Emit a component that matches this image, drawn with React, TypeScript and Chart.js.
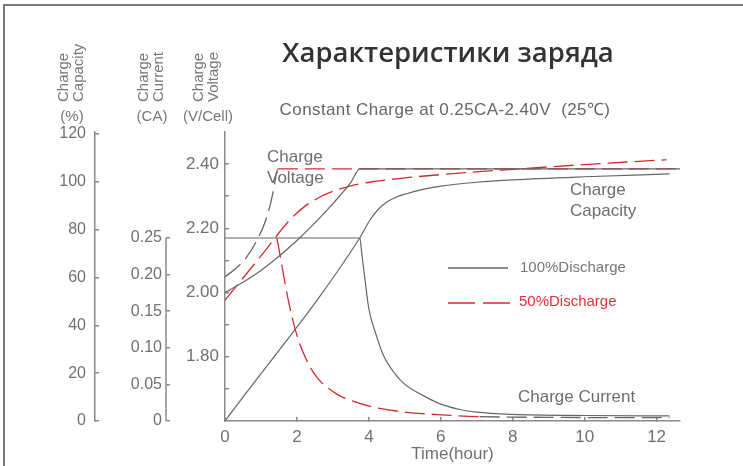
import { useEffect, useRef } from "react";
import { Chart, registerables } from "chart.js";

Chart.register(...registerables);

// ---------- tick values ----------
const timeTicks = [0, 2, 4, 6, 8, 10, 12];
const capacityTicks = [0, 20, 40, 60, 80, 100, 120];
const currentTicks = [0, 0.05, 0.1, 0.15, 0.2, 0.25];
const voltageTicks = [1.7, 1.8, 1.9, 2.0, 2.1, 2.2, 2.3, 2.4];
const voltageLabelled = [1.8, 2.0, 2.2, 2.4];

// ---------- 100% discharge (solid gray) ----------
const fullVoltageT = [0, 0.5, 1.0, 1.5, 2.0, 2.5, 3.0, 3.5, 3.75, 12.65];
const fullVoltageV = [2.0, 2.032, 2.069, 2.113, 2.162, 2.217, 2.277, 2.343, 2.385, 2.385];

const fullCurrentT = [0, 3.75, 3.8, 3.9, 4.0, 4.2, 4.4, 4.7, 5.0, 5.5, 6.0, 6.5, 7.0, 8.0, 10.0, 12.36];
const fullCurrentI = [0.25, 0.25, 0.23, 0.19, 0.153, 0.118, 0.09, 0.066, 0.05, 0.035, 0.023, 0.016, 0.012, 0.009, 0.0075, 0.007];

const fullCapacityT = [0, 3.75, 4.0, 4.25, 4.5, 4.75, 5.0, 5.5, 6.0, 7.0, 8.0, 10.0, 12.36];
const fullCapacityC = [0, 76.6, 83.3, 88.3, 91.5, 93.5, 94.8, 96.8, 98.2, 99.8, 100.8, 102.1, 103.3];

// ---------- 50% discharge (dashed) ----------
const halfVoltageT = [0, 0.3, 0.6, 0.9, 1.1, 1.25, 1.35, 1.47, 12.65];
const halfVoltageV = [2.049, 2.075, 2.11, 2.165, 2.215, 2.27, 2.32, 2.385, 2.385];

const halfCurrentT = [1.44, 1.5, 1.6, 1.76, 2.0, 2.27, 2.55, 3.1, 3.56, 4.12, 4.86, 6.16, 7.08, 9.0, 12.36];
const halfCurrentI = [0.25, 0.235, 0.207, 0.165, 0.117, 0.083, 0.06, 0.037, 0.027, 0.019, 0.013, 0.008, 0.006, 0.005, 0.0045];

const halfCapacityT = [0, 1.0, 1.8, 2.2, 2.6, 3.0, 3.5, 4.0, 5.0, 6.0, 8.0, 10.0, 12.27];
const halfCapacityC = [50.5, 69, 84, 89.5, 93.3, 96, 98.3, 99.8, 101.6, 103, 105.2, 107.2, 109.2];

// ---------- styles ----------
const GRAY = "#666666";
const RED = "#d42a30";
const AXIS = "#8a8a8a";
const TICK_TXT = "#707070";
const FONT = "'Liberation Sans', Arial, sans-serif";

const zip = (t: number[], v: number[]) => t.map((x, i) => ({ x, y: v[i] }));

const decorPlugin = {
  id: "decor",
  afterDraw(chart: any) {
    const ctx = chart.ctx as CanvasRenderingContext2D;
    const cur = chart.scales.yCur;
    ctx.save();

    // partial current axis line (0 .. 0.25)
    ctx.strokeStyle = AXIS;
    ctx.lineWidth = 1.5;
    ctx.beginPath();
    ctx.moveTo(cur.right, cur.getPixelForValue(0.25));
    ctx.lineTo(cur.right, cur.getPixelForValue(0));
    ctx.stroke();

    // title & subtitle
    ctx.textAlign = "center";
    ctx.textBaseline = "middle";
    ctx.fillStyle = "#333333";
    ctx.font = "600 27.5px 'Open Sans', sans-serif";
    ctx.fillText("Характеристики заряда", 448, 54);
    ctx.fillStyle = "#666666";
    ctx.font = `17px ${FONT}`;
    (ctx as any).letterSpacing = "0.4px";
    ctx.fillText("Constant Charge at 0.25CA-2.40V  (25℃)", 445, 110);
    (ctx as any).letterSpacing = "0px";

    // rotated axis titles
    ctx.fillStyle = "#777777";
    ctx.font = `15px ${FONT}`;
    const rot = (text: string, x: number, y: number) => {
      ctx.save();
      ctx.translate(x, y);
      ctx.rotate(-Math.PI / 2);
      ctx.textAlign = "left";
      ctx.textBaseline = "middle";
      ctx.fillText(text, 0, 0);
      ctx.restore();
    };
    rot("Charge", 64, 102);
    rot("Capacity", 79, 102);
    rot("Charge", 144, 102);
    rot("Current", 159, 102);
    rot("Charge", 199, 102);
    rot("Voltage", 214, 102);
    ctx.textAlign = "center";
    ctx.textBaseline = "middle";
    ctx.fillText("(%)", 72, 117);
    ctx.fillText("(CA)", 152, 117);
    ctx.fillText("(V/Cell)", 208, 117);

    // in-plot annotations
    ctx.textAlign = "left";
    ctx.fillStyle = "#6e6e6e";
    ctx.font = `17px ${FONT}`;
    ctx.fillText("Charge", 267, 157);
    ctx.fillText("Voltage", 267, 178);
    ctx.fillText("Charge", 570, 190);
    ctx.fillText("Capacity", 570, 211);
    ctx.fillText("Charge Current", 518, 397);

    // legend
    ctx.lineWidth = 1.3;
    ctx.strokeStyle = GRAY;
    ctx.setLineDash([]);
    ctx.beginPath();
    ctx.moveTo(448, 268);
    ctx.lineTo(508, 268);
    ctx.stroke();
    ctx.strokeStyle = RED;
    ctx.setLineDash([27, 8]);
    ctx.beginPath();
    ctx.moveTo(448, 303);
    ctx.lineTo(510, 303);
    ctx.stroke();
    ctx.setLineDash([]);
    ctx.font = `15px ${FONT}`;
    ctx.fillStyle = "#777777";
    ctx.fillText("100%Discharge", 520, 268);
    ctx.fillStyle = "#e0313a";
    ctx.fillText("50%Discharge", 519, 302);

    ctx.restore();
  },
};

const near = (a: number, b: number) => Math.abs(a - b) < 1e-6;

export default function App() {
  const ref = useRef<HTMLCanvasElement>(null);

  useEffect(() => {
    document.body.style.margin = "0";
    Chart.defaults.font.family = FONT;

    const solid = (label: string, data: any[], axis: string) => ({
      label,
      data,
      yAxisID: axis,
      borderColor: GRAY,
      borderWidth: 1.2,
      pointRadius: 0,
      fill: false,
      cubicInterpolationMode: "monotone" as const,
    });
    const dashed = (label: string, data: any[], axis: string, colorAt: (x: number) => string) => ({
      label,
      data,
      yAxisID: axis,
      borderColor: RED,
      borderWidth: 1.3,
      borderDash: [20, 7],
      pointRadius: 0,
      fill: false,
      cubicInterpolationMode: "monotone" as const,
      segment: {
        borderColor: (c: any) => colorAt((c.p0.parsed.x + c.p1.parsed.x) / 2),
      },
    });

    const chart = new Chart(ref.current!, {
      type: "line",
      data: {
        datasets: [
          solid("100% Voltage", zip(fullVoltageT, fullVoltageV), "yV"),
          solid("100% Current", zip(fullCurrentT, fullCurrentI), "yCur"),
          solid("100% Capacity", zip(fullCapacityT, fullCapacityC), "yCap"),
          dashed("50% Voltage", zip(halfVoltageT, halfVoltageV), "yV", (x) => (x < 1.47 ? GRAY : RED)),
          dashed("50% Current", zip(halfCurrentT, halfCurrentI), "yCur", (x) => (x < 7 ? RED : GRAY)),
          dashed("50% Capacity", zip(halfCapacityT, halfCapacityC), "yCap", () => RED),
        ] as any,
      },
      options: {
        animation: false,
        responsive: false,
        devicePixelRatio: 1,
        layout: { padding: { left: 0, top: 132, right: 63, bottom: 0 } },
        plugins: {
          legend: { display: false },
          title: { display: false },
          tooltip: { enabled: false },
        },
        scales: {
          x: {
            type: "linear",
            min: 0,
            max: 12.65,
            afterBuildTicks: (s: any) => {
              s.ticks = timeTicks.map((value) => ({ value }));
            },
            afterFit: (s: any) => {
              s.height = 45;
            },
            border: { display: true, color: AXIS, width: 1.5 },
            grid: { drawOnChartArea: false, tickLength: -4, color: AXIS, lineWidth: 1.5 },
            ticks: {
              autoSkip: false,
              maxRotation: 0,
              padding: 10,
              color: TICK_TXT,
              font: { size: 17, family: FONT },
              callback: (v: any) => String(v),
            },
            title: {
              display: true,
              text: "Time(hour)",
              color: TICK_TXT,
              font: { size: 17, family: FONT },
              padding: { top: 0, bottom: 1 },
            },
          },
          yCap: {
            type: "linear",
            position: "left",
            weight: 2,
            min: 0,
            max: 120.8,
            afterBuildTicks: (s: any) => {
              s.ticks = capacityTicks.map((value) => ({ value }));
            },
            afterFit: (s: any) => {
              s.width = 95;
            },
            border: { display: true, color: AXIS, width: 1.5 },
            grid: { drawOnChartArea: false, tickLength: -4, color: AXIS, lineWidth: 1.5 },
            ticks: {
              autoSkip: false,
              padding: 13,
              color: TICK_TXT,
              font: { size: 16, family: FONT },
              callback: (v: any) => String(v),
            },
          },
          yCur: {
            type: "linear",
            position: "left",
            weight: 1,
            min: 0,
            max: 0.3948,
            afterBuildTicks: (s: any) => {
              s.ticks = currentTicks.map((value) => ({ value }));
            },
            afterFit: (s: any) => {
              s.width = 71;
            },
            border: { display: false },
            grid: { drawOnChartArea: false, tickLength: -4, color: AXIS, lineWidth: 1.5 },
            ticks: {
              autoSkip: false,
              padding: 8,
              color: TICK_TXT,
              font: { size: 16, family: FONT },
              callback: (v: any) => (v === 0 ? "0" : Number(v).toFixed(2)),
            },
          },
          yV: {
            type: "linear",
            position: "left",
            weight: 0,
            min: 1.6,
            max: 2.5,
            afterBuildTicks: (s: any) => {
              s.ticks = voltageTicks.map((value) => ({ value }));
            },
            afterFit: (s: any) => {
              s.width = 59;
            },
            border: { display: true, color: AXIS, width: 1.5 },
            grid: { drawOnChartArea: false, tickLength: -4, color: AXIS, lineWidth: 1.5 },
            ticks: {
              autoSkip: false,
              padding: 10,
              color: TICK_TXT,
              font: { size: 17, family: FONT },
              callback: (v: any) =>
                voltageLabelled.some((l) => near(l, Number(v))) ? Number(v).toFixed(2) : "",
            },
          },
        },
      } as any,
      plugins: [decorPlugin],
    });
    return () => chart.destroy();
  }, []);

  return (
    <div style={{ position: "relative", width: 743, height: 466, background: "#fff", overflow: "hidden" }}>
      <canvas ref={ref} width={743} height={466} style={{ position: "absolute", left: 0, top: 0 }} />
      <div
        style={{
          position: "absolute",
          left: 3,
          top: 4,
          right: 0,
          bottom: 0,
          borderLeft: "2px solid #7a7a7a",
          borderTop: "2px solid #7a7a7a",
          pointerEvents: "none",
        }}
      />
    </div>
  );
}
